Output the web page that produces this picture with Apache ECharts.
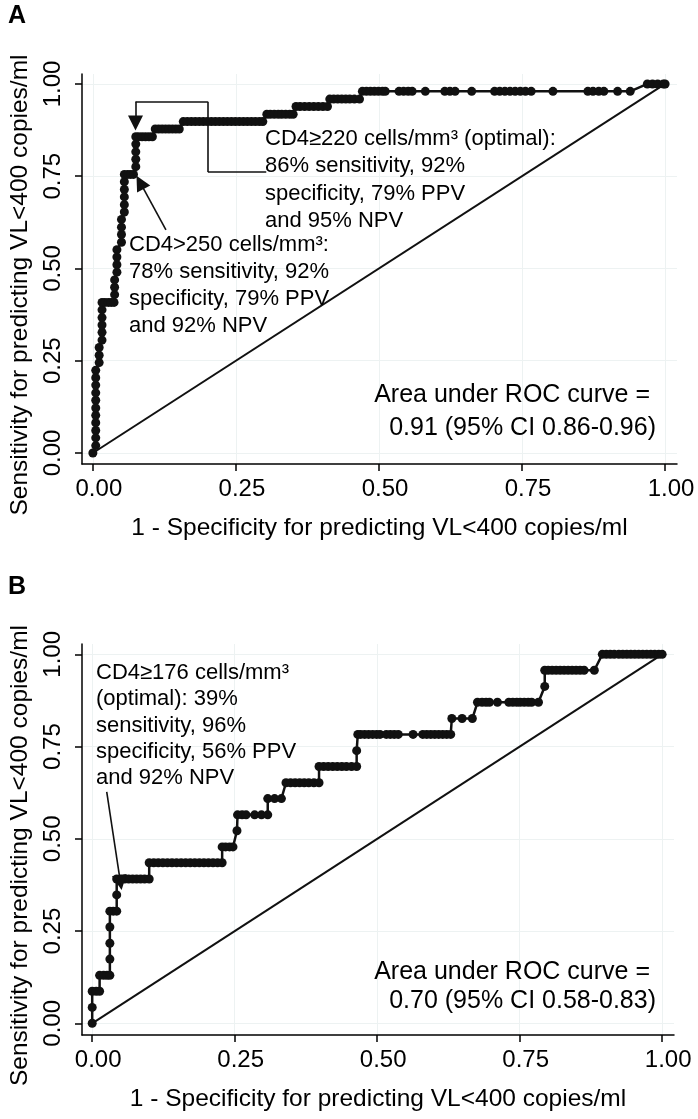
<!DOCTYPE html>
<html>
<head>
<meta charset="utf-8">
<script src="https://cdn.jsdelivr.net/npm/echarts@6/dist/echarts.min.js"></script>
<style>
html,body{margin:0;padding:0;background:#ffffff;}
#chart{width:698px;height:1119px;}
</style>
</head>
<body>
<div id="chart"></div>
<script>
// ---------- tick values / labels ----------
const tickValues = [0, 0.25, 0.5, 0.75, 1];
const tickLabels = ['0.00', '0.25', '0.50', '0.75', '1.00'];

// ---------- titles / texts ----------
const xTitle = '1 - Specificity for predicting VL<400 copies/ml';
const yTitle = 'Sensitivity for predicting VL<400 copies/ml';
const panelLabels = ['A', 'B'];
const noteA1 = ['CD4\u2265220 cells/mm\u00b3 (optimal):', '86% sensitivity, 92%', 'specificity, 79% PPV', 'and 95% NPV'];
const noteA2 = ['CD4>250 cells/mm\u00b3:', '78% sensitivity, 92%', 'specificity, 79% PPV', 'and 92% NPV'];
const noteB = ['CD4\u2265176 cells/mm\u00b3', '(optimal): 39%', 'sensitivity, 96%', 'specificity, 56% PPV', 'and 92% NPV'];
const aucA = ['Area under ROC curve =', '0.91 (95% CI 0.86-0.96)'];
const aucB = ['Area under ROC curve =', '0.70 (95% CI 0.58-0.83)'];

// ---------- reference (chance) line ----------
const refX = [0, 1];
const refY = [0, 1];

// ---------- Panel A ROC curve (1 - specificity, sensitivity) ----------
const fprA = [
  0,
  0.005,0.005,0.005,0.005,0.005,0.005,0.005,0.005,0.005,0.005,0.005,
  0.011,0.011,0.011,
  0.016,0.016,0.016,0.016,0.016,0.016,
  0.021,0.027,0.032,0.037,
  0.038,0.038,0.038,
  0.042,0.042,0.042,0.042,
  0.050,0.050,0.050,0.050,
  0.055,0.055,0.055,0.055,0.055,0.055,
  0.061,0.066,0.071,
  0.075,0.075,0.075,0.075,0.075,
  0.080,0.086,0.092,0.098,0.104,
  0.109,0.115,0.121,0.127,0.133,0.139,0.145,0.151,
  0.158,0.165,0.172,0.179,0.186,0.193,0.200,0.207,0.214,0.221,0.228,0.235,0.242,0.249,0.256,0.263,0.270,0.277,0.284,0.291,0.297,
  0.304,0.310,0.317,0.324,0.330,0.337,0.344,0.350,
  0.355,0.362,0.370,0.378,0.386,0.394,0.402,0.410,
  0.414,0.421,0.428,0.435,0.442,0.449,0.457,0.466,
  0.471,0.478,0.485,0.492,0.499,0.506,0.511,0.535,0.543,0.551,0.558,0.581,0.615,0.624,0.633,0.662,
  0.702,0.711,0.720,0.729,0.738,0.747,0.756,0.766,0.804,0.865,0.874,0.884,0.893,0.917,0.939,
  0.969,0.978,0.987,0.997,1.000
];
const sensA = [
  0,
  0.020,0.041,0.061,0.082,0.102,0.122,0.143,0.163,0.184,0.204,0.224,
  0.245,0.265,0.286,
  0.306,0.327,0.347,0.367,0.388,0.408,
  0.408,0.408,0.408,0.408,
  0.429,0.449,0.469,
  0.490,0.510,0.531,0.551,
  0.571,0.592,0.612,0.633,
  0.653,0.673,0.694,0.714,0.735,0.755,
  0.755,0.755,0.755,
  0.776,0.796,0.816,0.837,0.857,
  0.857,0.857,0.857,0.857,0.857,
  0.878,0.878,0.878,0.878,0.878,0.878,0.878,0.878,
  0.898,0.898,0.898,0.898,0.898,0.898,0.898,0.898,0.898,0.898,0.898,0.898,0.898,0.898,0.898,0.898,0.898,0.898,0.898,0.898,0.898,
  0.918,0.918,0.918,0.918,0.918,0.918,0.918,0.918,
  0.939,0.939,0.939,0.939,0.939,0.939,0.939,0.939,
  0.959,0.959,0.959,0.959,0.959,0.959,0.959,0.959,
  0.980,0.980,0.980,0.980,0.980,0.980,0.980,0.980,0.980,0.980,0.980,0.980,0.980,0.980,0.980,0.980,
  0.980,0.980,0.980,0.980,0.980,0.980,0.980,0.980,0.980,0.980,0.980,0.980,0.980,0.980,0.980,
  1.000,1.000,1.000,1.000,1.000
];

// ---------- Panel B ROC curve ----------
const fprB = [
  0,0,0,0.007,0.013,
  0.013,0.020,0.026,0.031,
  0.031,0.031,0.031,0.031,
  0.037,0.043,
  0.043,0.043,
  0.050,0.057,0.064,0.071,0.078,0.085,0.092,0.100,
  0.100,0.108,0.116,0.124,0.132,0.140,0.148,0.156,0.164,0.172,0.180,0.188,0.196,0.204,0.212,0.220,0.228,
  0.228,0.234,0.241,0.247,
  0.254,
  0.255,0.263,0.270,0.285,0.297,0.308,
  0.308,0.320,0.332,
  0.340,0.348,0.356,0.364,0.372,0.380,0.389,0.398,
  0.398,0.406,0.414,0.422,0.430,0.438,0.446,0.455,0.464,
  0.464,
  0.466,0.471,0.478,0.485,0.492,0.499,0.505,0.516,0.523,0.530,0.537,0.563,0.580,0.587,0.594,0.601,0.608,0.615,0.622,0.629,
  0.631,0.649,0.667,
  0.676,0.684,0.691,0.697,0.711,0.731,0.738,0.745,0.751,0.758,0.765,0.771,0.783,
  0.794,
  0.794,0.800,0.807,0.814,0.821,0.828,0.835,0.842,0.849,0.856,0.863,0.881,
  0.895,0.902,0.909,0.916,0.924,0.931,0.938,0.945,0.952,0.959,0.966,0.973,0.980,0.987,0.994,1.000
];
const sensB = [
  0,0.043,0.087,0.087,0.087,
  0.130,0.130,0.130,0.130,
  0.174,0.217,0.261,0.304,
  0.304,0.304,
  0.348,0.391,
  0.391,0.391,0.391,0.391,0.391,0.391,0.391,0.391,
  0.435,0.435,0.435,0.435,0.435,0.435,0.435,0.435,0.435,0.435,0.435,0.435,0.435,0.435,0.435,0.435,0.435,
  0.478,0.478,0.478,0.478,
  0.522,
  0.565,0.565,0.565,0.565,0.565,0.565,
  0.609,0.609,0.609,
  0.652,0.652,0.652,0.652,0.652,0.652,0.652,0.652,
  0.696,0.696,0.696,0.696,0.696,0.696,0.696,0.696,0.696,
  0.739,
  0.783,0.783,0.783,0.783,0.783,0.783,0.783,0.783,0.783,0.783,0.783,0.783,0.783,0.783,0.783,0.783,0.783,0.783,0.783,0.783,
  0.826,0.826,0.826,
  0.870,0.870,0.870,0.870,0.870,0.870,0.870,0.870,0.870,0.870,0.870,0.870,0.870,
  0.913,
  0.957,0.957,0.957,0.957,0.957,0.957,0.957,0.957,0.957,0.957,0.957,0.957,
  1.000,1.000,1.000,1.000,1.000,1.000,1.000,1.000,1.000,1.000,1.000,1.000,1.000,1.000,1.000,1.000
];

// ---------- build ----------
const FONT = '"Liberation Sans", Arial, Helvetica, sans-serif';
const INK = '#111111';
const zip = (xs, ys) => xs.map((x, i) => [x, ys[i]]);
const fmt = v => tickLabels[tickValues.indexOf(+v.toFixed(2))] ?? v.toFixed(2);

function xAxisCfg(gridIndex, min, max) {
  return {
    type: 'value', gridIndex, min, max,
    axisLine: { show: true, onZero: false, lineStyle: { color: '#000', width: 1.5 } },
    axisTick: { show: true, customValues: tickValues, length: 7, lineStyle: { color: '#000', width: 1.5 } },
    axisLabel: { show: true, customValues: tickValues, formatter: fmt, fontSize: 24, color: '#000',
                 fontFamily: FONT, margin: 13, padding: [0, 0, 0, 12] },
    splitLine: { show: true, lineStyle: { color: '#edf2f2', width: 1 } },
    minorTick: { show: false },
    name: xTitle, nameLocation: 'middle', nameGap: 52,
    nameTextStyle: { fontSize: 24.5, color: '#000', fontFamily: FONT }
  };
}
function yAxisCfg(gridIndex, min, max) {
  return {
    type: 'value', gridIndex, min, max,
    axisLine: { show: true, onZero: false, lineStyle: { color: '#000', width: 1.5 } },
    axisTick: { show: true, customValues: tickValues, length: 7, lineStyle: { color: '#000', width: 1.5 } },
    axisLabel: { show: true, customValues: tickValues, formatter: fmt, rotate: 90, fontSize: 24, color: '#000',
                 fontFamily: FONT, margin: 17 },
    splitLine: { show: true, lineStyle: { color: '#edf2f2', width: 1 } },
    name: yTitle, nameLocation: 'middle', nameGap: 49,
    nameTextStyle: { fontSize: 24.5, color: '#000', fontFamily: FONT, padding: [0, 32, 0, 0] }
  };
}
function rocSeries(idx, pts) {
  return {
    type: 'line', xAxisIndex: idx, yAxisIndex: idx, data: pts,
    symbol: 'circle', symbolSize: 9, showAllSymbol: true, clip: false,
    itemStyle: { color: INK, borderWidth: 0 },
    lineStyle: { color: INK, width: 2.5 }, z: 4, silent: true
  };
}
function refSeries(idx) {
  return {
    type: 'line', xAxisIndex: idx, yAxisIndex: idx, data: zip(refX, refY),
    symbol: 'none', lineStyle: { color: INK, width: 2 }, z: 3, silent: true
  };
}
function connectorSeries(idx, segs) {
  return {
    type: 'lines', coordinateSystem: 'cartesian2d', xAxisIndex: idx, yAxisIndex: idx,
    data: segs.map(c => ({ coords: c })), symbol: ['none', 'none'],
    lineStyle: { color: INK, width: 1.6, opacity: 1, curveness: 0 }, z: 5, silent: true
  };
}
function arrowSeries(idx, segs) {
  return {
    type: 'lines', coordinateSystem: 'cartesian2d', xAxisIndex: idx, yAxisIndex: idx,
    data: segs.map(c => ({ coords: c })), symbol: ['none', 'triangle'], symbolSize: 15,
    lineStyle: { color: INK, width: 1.6, opacity: 1, curveness: 0 }, z: 5, silent: true
  };
}
function textEl(lines, x, y, size, lineHeight, align, bold) {
  return {
    type: 'text', x, y, z: 100, zlevel: 0, silent: true,
    style: { text: lines.join('\n'), fontSize: size, fontFamily: FONT, fill: '#000',
             lineHeight, align: align || 'left', verticalAlign: 'top',
             fontWeight: bold ? 'bold' : 'normal' }
  };
}

const chart = echarts.init(document.getElementById('chart'), null, { renderer: 'canvas' });
chart.setOption({
  animation: false,
  backgroundColor: '#ffffff',
  grid: [
    { left: 77, top: 74, width: 600, height: 390, containLabel: false },
    { left: 75, top: 644, width: 599, height: 391, containLabel: false }
  ],
  xAxis: [ xAxisCfg(0, -0.019, 1.0208), xAxisCfg(1, -0.0179, 1.0208) ],
  yAxis: [ yAxisCfg(0, -0.0298, 1.027), yAxisCfg(1, -0.0317, 1.028) ],
  series: [
    refSeries(0),
    rocSeries(0, zip(fprA, sensA)),
    connectorSeries(0, [
      [[0.303, 0.7615], [0.201, 0.7615]],
      [[0.201, 0.7615], [0.201, 0.952]],
      [[0.201, 0.952], [0.0745, 0.952]]
    ]),
    arrowSeries(0, [
      [[0.0745, 0.952], [0.0745, 0.894]],
      [[0.1277, 0.6043], [0.0825, 0.7333]]
    ]),
    refSeries(1),
    rocSeries(1, zip(fprB, sensB)),
    arrowSeries(1, [
      [[0.0255, 0.627], [0.0496, 0.3813]]
    ])
  ],
  graphic: [
    textEl([panelLabels[0]], 8, 4, 25, 25, 'left', true),
    textEl([panelLabels[1]], 8, 575, 25, 25, 'left', true),
    textEl(noteA1, 265, 125, 22, 27.5),
    textEl(noteA2, 129, 231.5, 22, 27),
    textEl(noteB, 96, 660, 22, 26.2),
    textEl([aucA[0]], 650, 395 - 13.5, 25, 27, 'right'),
    textEl([aucA[1]], 656, 428 - 13.5, 25, 27, 'right'),
    textEl([aucB[0]], 650, 972 - 13.5, 25, 27, 'right'),
    textEl([aucB[1]], 656, 1001 - 13.5, 25, 27, 'right')
  ]
});
</script>
</body>
</html>
